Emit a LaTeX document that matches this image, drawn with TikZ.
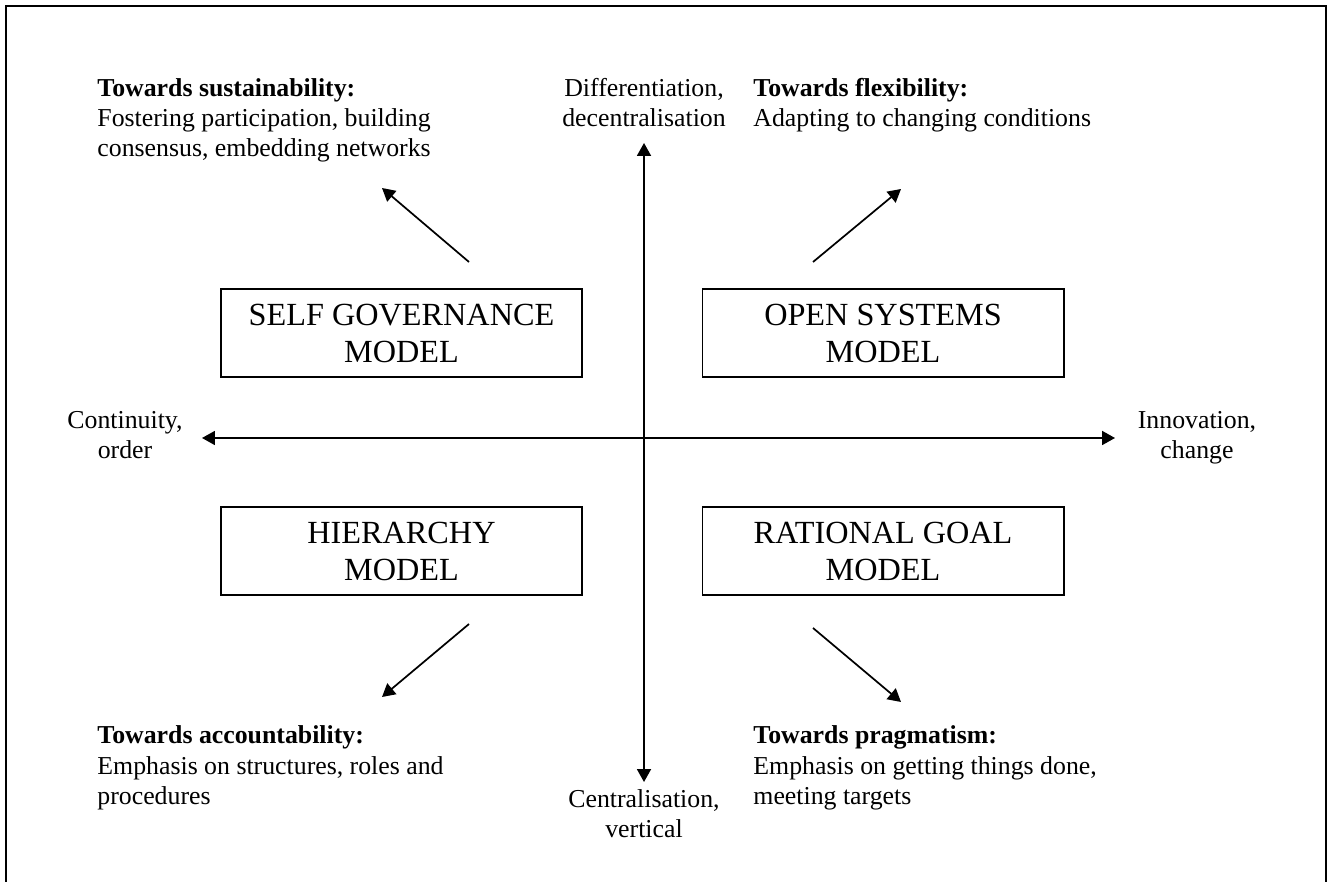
\documentclass[tikz,border=0pt]{standalone}
\usepackage{fontspec}
\setmainfont{Liberation Serif}
\usetikzlibrary{arrows.meta,positioning}

\tikzstyle{model} = [rectangle, draw, line width=0.8pt, align=center,
    minimum width=168pt, minimum height=41pt, font=\fontsize{15}{17.2}\selectfont]
\tikzstyle{note} = [inner sep=0pt, font=\fontsize{12}{13.95}\selectfont]
\tikzstyle{line} = [draw, line width=0.8pt, -{Triangle[length=6pt,width=6.5pt]}]
\tikzstyle{axis} = [draw, line width=0.8pt, {Triangle[length=6pt,width=6.5pt]}-{Triangle[length=6pt,width=6.5pt]}]

\begin{document}
\begin{tikzpicture}[x=0.465pt, y=-0.465pt]

\useasboundingbox (0,0) rectangle (1332,882);

% Frame
\draw[line width=0.9pt] (6,882) -- (6,6) -- (1326,6) -- (1326,882);

% Model boxes
\node[model] (selfgov) at (401.5,333) {SELF GOVERNANCE\\MODEL};
\node[model] (opensys) at (883,333) {OPEN SYSTEMS\\MODEL};
\node[model] (hier) at (401.5,551) {HIERARCHY\\MODEL};
\node[model] (ratgoal) at (883,551) {RATIONAL GOAL\\MODEL};

% Corner notes (anchored at the baseline of the last line)
\node[note, align=left, anchor=base west] (sust) at (97,157)
    {\textbf{Towards sustainability:}\\Fostering participation, building\\consensus, embedding networks};
\node[note, align=left, anchor=base west] (flex) at (753,127)
    {\textbf{Towards flexibility:}\\Adapting to changing conditions};
\node[note, align=left, anchor=base west] (acct) at (97,804)
    {\textbf{Towards accountability:}\\Emphasis on structures, roles and\\procedures};
\node[note, align=left, anchor=base west] (prag) at (753,804)
    {\textbf{Towards pragmatism:}\\Emphasis on getting things done,\\meeting targets};

% Axis labels
\node[note, align=center, anchor=base] (diff) at (644,127) {Differentiation,\\decentralisation};
\node[note, align=center, anchor=base] (cent) at (644,837) {Centralisation,\\vertical};
\node[note, align=center, anchor=base] (cont) at (125,459) {Continuity,\\order};
\node[note, align=center, anchor=base] (innov) at (1197,459) {Innovation,\\change};

% Arrow ends
\coordinate (vtop) at (644,143);
\coordinate (vbot) at (644,782);
\coordinate (hleft) at (202,438);
\coordinate (hright) at (1115,438);
\coordinate (nwfrom) at (469,262);
\coordinate (nwto) at (382,188);
\coordinate (nefrom) at (813,262);
\coordinate (neto) at (901,189);
\coordinate (swfrom) at (469,624);
\coordinate (swto) at (382,697);
\coordinate (sefrom) at (813,628);
\coordinate (seto) at (901,702);

% Axes
\draw[axis] (vtop) -- (vbot);
\draw[axis] (hleft) -- (hright);

% Diagonal arrows
\draw[line] (nwfrom) -- (nwto);
\draw[line] (nefrom) -- (neto);
\draw[line] (swfrom) -- (swto);
\draw[line] (sefrom) -- (seto);

\end{tikzpicture}
\end{document}
